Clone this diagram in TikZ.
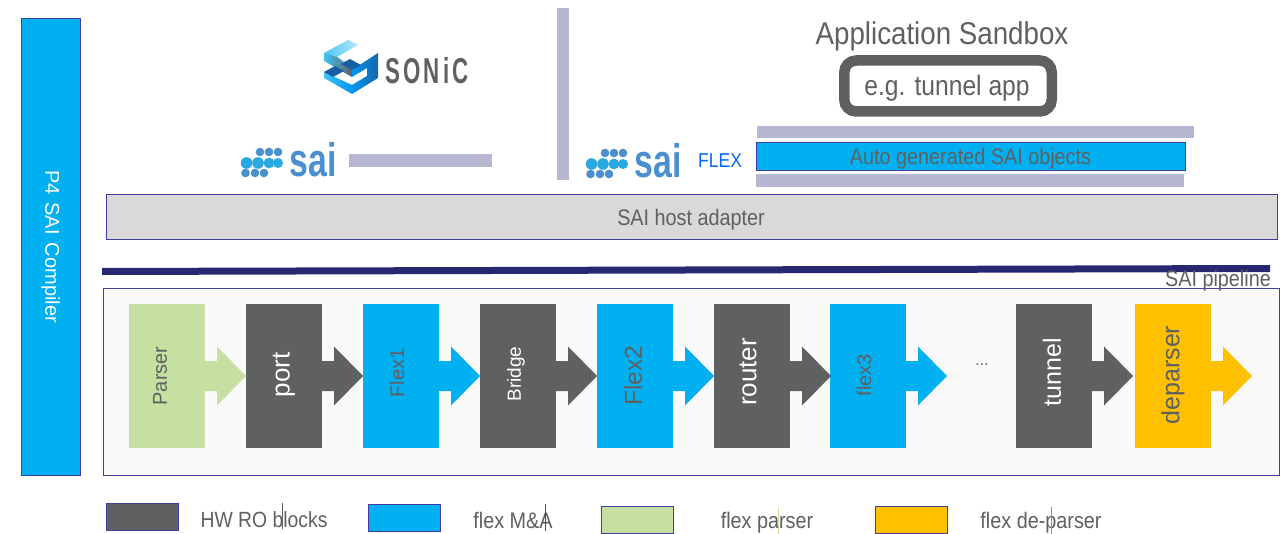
\documentclass[tikz,border=0pt]{standalone}
\usepackage{fontspec}
\setmainfont[FakeStretch=0.88]{Liberation Sans}
\newfontfamily\wide{Liberation Sans}
\newfontfamily\narrowf[FakeStretch=0.62]{Liberation Sans Bold}
\newfontfamily\saifont[FakeStretch=0.72]{Liberation Sans Bold}
\definecolor{cblue}{HTML}{00B0F0}
\definecolor{cgray}{HTML}{5F6062}
\definecolor{cgreen}{HTML}{C5E0A0}
\definecolor{cyellow}{HTML}{FFC000}
\definecolor{cbar}{HTML}{B7B7D1}
\definecolor{cnavy}{HTML}{282872}
\definecolor{cedge}{HTML}{3F3F9F}
\definecolor{ctext}{HTML}{5F6062}
\definecolor{chost}{HTML}{D9D9D9}
\definecolor{csai}{HTML}{4A90D0}
\definecolor{csaib}{HTML}{29A9E1}
\tikzset{
  blockbox/.style={minimum width=76pt,minimum height=143pt,inner sep=0pt,outer sep=0pt},
  blocktxt/.style={rotate=90,inner sep=0pt,font=\wide\fontsize{#1}{#1}\selectfont},
  lab/.style={text=ctext,inner sep=0pt,font=\fontsize{22.5}{22.5}\selectfont},
  legtxt/.style={lab,anchor=base},
  legbox/.style={draw=cedge,line width=1pt,minimum width=72pt,minimum height=27pt,inner sep=0pt},
  barbox/.style={fill=cbar,inner sep=0pt},
  sailogo/.style={text=csai,inner sep=0pt,anchor=base,font=\saifont\fontsize{47}{47}\selectfont},
}
\newcommand{\blockarrow}[2]{%
  \fill[#2] (#1.east) ++(0,-15) -- ++(12,0) -- ++(0,-14.5) -- ++(29,29.5) -- ++(-29,29.5) -- ++(0,-14.5) -- ++(-12,0) -- cycle;}
\newcommand{\saidots}[2]{%
 \begin{scope}[shift={(#1,#2)}]
  \foreach \x/\y in {18/-11,27/-11,36/-11,3.5/10,13/10,22/10}{\fill[csai] (\x,\y) circle (4.3);}
  \foreach \x/\r in {4.5/5.8,16/5.8,27/5.4,36/5}{\fill[csaib] (\x,0) circle (\r);}
 \end{scope}}
\begin{document}
\begin{tikzpicture}[x=1pt,y=-1pt]
\useasboundingbox (0,0) rectangle (1287,534);
\clip (0,0) rectangle (1287,534);
\fill[white] (0,0) rectangle (1287,534);
% compiler
\node[draw=cedge,fill=cblue,line width=.8pt,minimum width=59pt,minimum height=457pt,inner sep=0pt,text=white,font=\wide\fontsize{20}{20}\selectfont] (comp) at (50.5,246.5) {\rotatebox{-90}{P4\hspace{8pt}SAI\hspace{8pt}Compiler}};
% sonic logo
\begin{scope}[shift={(324,40)}]
 \shade[left color=cblue!70!white,right color=cblue!30!white] (0,13) -- (24,0) -- (34,5) -- (13,17) -- (22,22) -- (12,24) -- (0,20) -- cycle;
 \shade[left color=cblue!75!white,right color=cgray] (0,13) -- (0,21) -- (28,37) -- (28,30) -- (13,17) -- cycle;
 \shade[left color=cblue!85!blue,right color=cnavy!55!cblue] (28,30) -- (54,13) -- (54,38) -- (28,54) -- (28,45) -- (43,36) -- (43,28) -- (28,37) -- cycle;
 \shade[left color=cblue!75!white,right color=cblue!85!blue] (0,32) -- (28,45) -- (28,54) -- (0,38) -- cycle;
 \fill[cnavy!60!cblue] (0,32) -- (11,26) -- (20,31) -- (9,37) -- cycle;
 \fill[cnavy!60!cblue] (17,24) -- (26,19) -- (37,25) -- (28,30) -- cycle;
\end{scope}
\node[text=cgray,inner sep=0pt,font=\narrowf\fontsize{36}{36}\selectfont] (sonic) at (427,71) {S\hspace{3pt}O\hspace{3pt}N\hspace{3pt}i\hspace{3pt}C};
% sai logos
\saidots{242}{163}
\node[sailogo] (sai1) at (313,177) {sai};
\node[barbox,minimum width=143pt,minimum height=13pt] (bar1) at (420.5,160.5) {};
\node[barbox,minimum width=12pt,minimum height=172pt] (vbar) at (563,94) {};
\saidots{587}{164}
\node[sailogo] (sai2) at (658.5,178) {sai};
\node[text=cblue!60!blue,inner sep=0pt,font=\fontsize{20}{20}\selectfont] (flex) at (720,161) {FLEX};
% sandbox
\node[lab,font=\fontsize{31.5}{31.5}\selectfont] (sand) at (942,36) {Application Sandbox};
\node[draw=cgray,line width=10.5pt,rounded corners=12pt,fill=white,minimum width=207.5pt,minimum height=51pt,inner sep=0pt] (app) at (948,86) {};
\node[text=ctext,inner sep=0pt,font=\fontsize{28}{28}\selectfont] (apptxt) at (947,88) {e.g. tunnel app};
\node[barbox,minimum width=437pt,minimum height=12pt] (bar2) at (975.5,132) {};
\node[draw=cedge,line width=1pt,fill=cblue,minimum width=429pt,minimum height=28pt,inner sep=0pt] (auto) at (970.5,157) {};
\node[lab] (autotxt) at (970.5,159) {Auto generated SAI objects};
\node[barbox,minimum width=428pt,minimum height=13pt] (bar3) at (970,180.5) {};
% host
\node[draw=cedge,line width=.8pt,fill=chost,minimum width=1171pt,minimum height=45pt,inner sep=0pt] (host) at (691.5,216.5) {};
\node[lab] (hosttxt) at (691,220) {SAI host adapter};
\fill[cnavy] (102,268) -- (1270,265) -- (1270,272) -- (102,275) -- cycle;
% pipeline
\node[draw=cedge,line width=.9pt,fill=white!98!black,minimum width=1176pt,minimum height=187pt,inner sep=0pt] (pipe) at (691,381.5) {};
\node[lab,anchor=east] (pl) at (1271,281) {SAI pipeline};
% blocks
\node[blockbox,fill=cgreen] (b1) at (167,376) {};
\node[blockbox,fill=cgray] (b2) at (284,376) {};
\node[blockbox,fill=cblue] (b3) at (401,376) {};
\node[blockbox,fill=cgray] (b4) at (518,376) {};
\node[blockbox,fill=cblue] (b5) at (635,376) {};
\node[blockbox,fill=cgray] (b6) at (752,376) {};
\node[blockbox,fill=cblue] (b7) at (868,376) {};
\node[blockbox,fill=cgray] (b8) at (1054,376) {};
\node[blockbox,fill=cyellow] (b9) at (1173,376) {};
\node[blocktxt=20,text=ctext] (t1b) at (160,376) {Parser};
\node[blocktxt=26,text=white] (t2b) at (284,375) {port};
\node[blocktxt=20,text=ctext] (t3b) at (397,373) {Flex1};
\node[blocktxt=19,text=white] (t4b) at (516,374) {Bridge};
\node[blocktxt=24.5,text=ctext] (t5b) at (633,376) {Flex2};
\node[blocktxt=26,text=white] (t6b) at (748,372) {router};
\node[blocktxt=20,text=ctext] (t7b) at (864,375) {flex3};
\node[blocktxt=25,text=white] (t8b) at (1052,372) {tunnel};
\node[blocktxt=25,text=ctext] (t9b) at (1173,375) {deparser};
\blockarrow{b1}{cgreen}
\blockarrow{b2}{cgray}
\blockarrow{b3}{cblue}
\blockarrow{b4}{cgray}
\blockarrow{b5}{cblue}
\blockarrow{b6}{cgray}
\blockarrow{b7}{cblue}
\blockarrow{b8}{cgray}
\blockarrow{b9}{cyellow}
\node[text=ctext,inner sep=0pt,font=\wide\fontsize{16}{16}\selectfont] (dots) at (982,365) {...};
% legend
\node[legbox,fill=cgray] (l1) at (142.5,516.5) {};
\node[legbox,fill=cblue] (l2) at (404.5,518) {};
\node[legbox,fill=cgreen] (l3) at (637.5,520) {};
\node[legbox,fill=cyellow] (l4) at (911.5,520) {};
\node[legtxt,font=\fontsize{22}{22}\selectfont] (t1) at (264,527) {HW RO blocks};
\node[legtxt] (t2) at (513,528) {flex M\&A};
\node[legtxt] (t3) at (767,528) {flex parser};
\node[legtxt] (t4) at (1041,528) {flex de-parser};
\draw[cgray,line width=.5pt] (282.5,503) -- (282.5,529);
\draw[cedge,line width=.5pt] (545.5,504) -- (545.5,531);
\draw[cgreen,line width=.5pt] (778,507) -- (778,534);
\draw[green!60!cblue,line width=.5pt] (1051,507) -- (1051,534);
\end{tikzpicture}
\end{document}
